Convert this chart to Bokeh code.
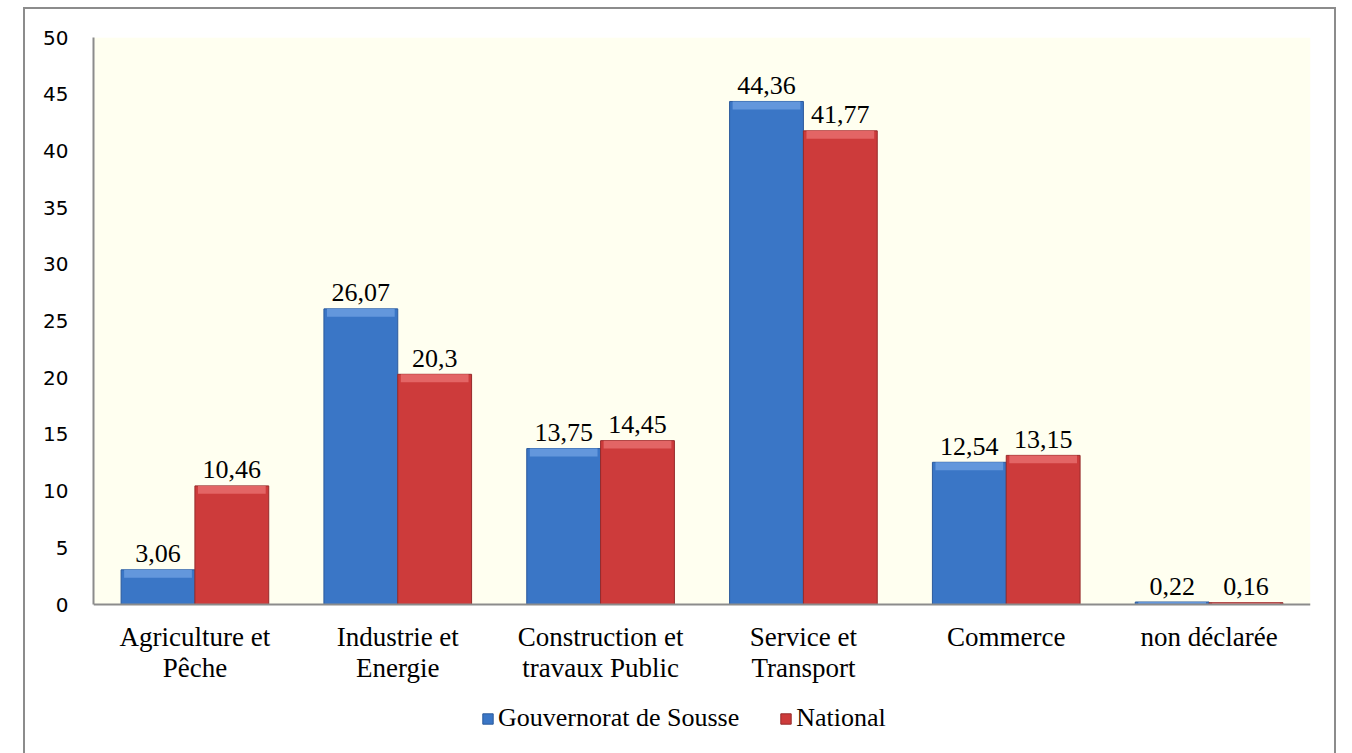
from bokeh.plotting import figure
from bokeh.models import (FactorRange, Range1d, FixedTicker, ColumnDataSource,
                          Legend, LegendItem, BoxAnnotation)
from bokeh.transform import dodge
from bokeh.core.properties import value
from bokeh.embed import file_html
from bokeh.resources import INLINE

# ---- data ----
categories = ["Agriculture et\nPêche", "Industrie et\nEnergie", "Construction et\ntravaux Public",
              "Service et\nTransport", "Commerce", "non déclarée"]
sousse = [3.06, 26.07, 13.75, 44.36, 12.54, 0.22]
national = [10.46, 20.3, 14.45, 41.77, 13.15, 0.16]
sousse_labels = ["3,06", "26,07", "13,75", "44,36", "12,54", "0,22"]
national_labels = ["10,46", "20,3", "14,45", "41,77", "13,15", "0,16"]
series_names = ["Gouvernorat de Sousse", "National"]
y_ticks = [0, 5, 10, 15, 20, 25, 30, 35, 40, 45, 50]

BLUE = "#3a76c6"
BLUE_HI = "#6397dc"
BLUE_EDGE = "#2b5a9c"
RED = "#cd3b3b"
RED_HI = "#e36565"
RED_EDGE = "#962a2a"
SERIF = "Liberation Serif"

# layout: plot area 567 px for 0..50, then 149 px of room below for labels and legend
PLOT_H = 567
BELOW_H = 149
Y_MAX = 50
Y_MIN = -BELOW_H * Y_MAX / PLOT_H

src = ColumnDataSource(dict(
    cat=categories, sousse=sousse, national=national,
    sousse_hi=[max(0.0, v - 0.7) for v in sousse],
    national_hi=[max(0.0, v - 0.7) for v in national],
    slab=sousse_labels, nlab=national_labels,
))

p = figure(frame_width=1217, frame_height=PLOT_H + BELOW_H,
           x_range=FactorRange(*categories, range_padding=0),
           y_range=Range1d(Y_MIN, Y_MAX), output_backend="svg", toolbar_location=None,
           min_border_left=68, min_border_right=24, min_border_top=28, min_border_bottom=0)
p.styles = {"margin-left": "23px", "margin-top": "7px",
            "border-left": "2px solid #8c8c8c", "border-top": "2px solid #8c8c8c",
            "border-right": "2px solid #8c8c8c"}

p.background_fill_color = "white"
p.border_fill_color = "white"
p.outline_line_color = None
p.xgrid.grid_line_color = None
p.ygrid.grid_line_color = None

# cream plot area (0..50)
p.add_layout(BoxAnnotation(bottom=0, top=Y_MAX, fill_color="#fffff0", fill_alpha=1,
                           line_color=None, level="underlay"))

OFF = 0.182
W = 0.364
rb = p.vbar(x=dodge("cat", -OFF, range=p.x_range), top="sousse", width=W, source=src,
            fill_color=BLUE, line_color=BLUE_EDGE, line_width=1)
p.vbar(x=dodge("cat", -OFF, range=p.x_range), top="sousse", bottom="sousse_hi", width=W - 0.03,
       source=src, fill_color=BLUE_HI, line_color=None)
rr = p.vbar(x=dodge("cat", OFF, range=p.x_range), top="national", width=W, source=src,
            fill_color=RED, line_color=RED_EDGE, line_width=1)
p.vbar(x=dodge("cat", OFF, range=p.x_range), top="national", bottom="national_hi", width=W - 0.03,
       source=src, fill_color=RED_HI, line_color=None)

p.text(x=dodge("cat", -OFF, range=p.x_range), y="sousse", text="slab", source=src,
       text_align="center", text_baseline="alphabetic", y_offset=-16,
       text_font=value(SERIF), text_font_size="26px", text_color="black")
p.text(x=dodge("cat", OFF, range=p.x_range), y="national", text="nlab", source=src,
       text_align="center", text_baseline="alphabetic", y_offset=-16,
       text_font=value(SERIF), text_font_size="26px", text_color="black")

# axes
p.yaxis.ticker = FixedTicker(ticks=y_ticks)
p.yaxis.bounds = (0, Y_MAX)
p.yaxis.major_label_text_font = "DejaVu Sans"
p.yaxis.major_label_text_font_size = "20px"
p.yaxis.major_label_text_color = "black"
p.yaxis.major_tick_line_color = None
p.yaxis.minor_tick_line_color = None
p.yaxis.major_label_standoff = 19
p.yaxis.axis_line_color = "#8c8c8c"
p.yaxis.axis_line_width = 2

p.xaxis.fixed_location = 0
p.xaxis.major_label_text_font = SERIF
p.xaxis.major_label_text_font_size = "27px"
p.xaxis.major_label_text_line_height = 1.05
p.xaxis.major_label_text_color = "black"
p.xaxis.major_tick_line_color = None
p.xaxis.minor_tick_line_color = None
p.xaxis.major_label_standoff = 11
p.xaxis.axis_line_color = "#8c8c8c"
p.xaxis.axis_line_width = 2

legend = Legend(items=[LegendItem(label=series_names[0], renderers=[rb]),
                       LegendItem(label=series_names[1], renderers=[rr])],
                orientation="horizontal", location=(388, 20),
                glyph_width=13, glyph_height=13, label_standoff=4, spacing=40,
                padding=0, margin=0, border_line_color=None, background_fill_alpha=0,
                label_text_font=SERIF, label_text_font_size="26px", label_text_color="black")
p.add_layout(legend, "center")

open("out.html", "w").write(file_html(p, INLINE))
